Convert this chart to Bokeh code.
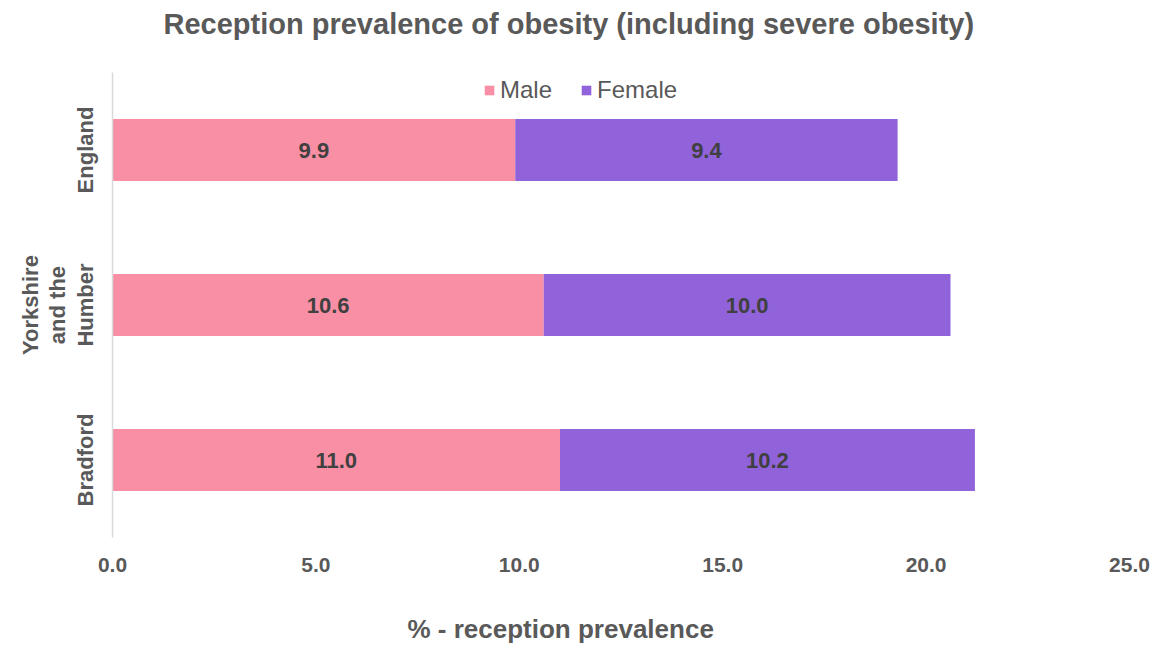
from bokeh.plotting import figure
from bokeh.models import (ColumnDataSource, FixedTicker, NumeralTickFormatter, Range1d,
                          FactorRange, Legend, LegendItem, Title, LinearAxis)
from bokeh.core.properties import value
from bokeh.embed import file_html
from bokeh.resources import INLINE

# Data
areas = ["Bradford", "Yorkshire\nand the\nHumber", "England"]
male = [11.0, 10.6, 9.9]
female = [10.2, 10.0, 9.4]
x_ticks = [0, 5, 10, 15, 20, 25]

MALE_C = "#F98FA4"
FEMALE_C = "#9163DB"
TXT = "#595959"
FONT = "Liberation Sans"

src = ColumnDataSource(dict(
    area=areas, male=male, female=female,
    male_mid=[m / 2 for m in male],
    female_mid=[m + f / 2 for m, f in zip(male, female)],
    male_lbl=["%.1f" % v for v in male],
    female_lbl=["%.1f" % v for v in female],
))

p = figure(width=1156, height=645, y_range=FactorRange(*areas, range_padding=0),
           x_range=Range1d(0, 25), output_backend="svg", toolbar_location=None,
           min_border_left=112, min_border_right=27, min_border_top=72, min_border_bottom=108)

xa = p.xaxis[0]
ya = p.yaxis[0]

renderers = p.hbar_stack(["male", "female"], y="area", height=0.4, source=src,
                         color=[MALE_C, FEMALE_C], line_color=None)

p.text(x="male_mid", y="area", text="male_lbl", source=src, text_align="center",
       text_baseline="middle", text_font=value(FONT), text_font_size="22px",
       text_font_style="bold", text_color="#404040")
p.text(x="female_mid", y="area", text="female_lbl", source=src, text_align="center",
       text_baseline="middle", text_font=value(FONT), text_font_size="22px",
       text_font_style="bold", text_color="#404040")

p.xgrid.visible = False
p.ygrid.visible = False
p.outline_line_color = None

xa.ticker = FixedTicker(ticks=x_ticks)
xa.formatter = NumeralTickFormatter(format="0.0")
xa.axis_line_color = None
xa.major_tick_line_color = None
xa.minor_tick_line_color = None
xa.major_label_text_font = FONT
xa.major_label_text_font_size = "21px"
xa.major_label_text_font_style = "bold"
xa.major_label_text_color = TXT
xa.major_label_standoff = 14

ya.axis_line_color = "#D9D9D9"
ya.axis_line_width = 1.5
ya.major_tick_line_color = None
ya.minor_tick_line_color = None
ya.major_label_orientation = "vertical"
ya.major_label_text_font = FONT
ya.major_label_text_font_size = "22px"
ya.major_label_text_font_style = "bold"
ya.major_label_text_color = TXT
ya.major_label_text_line_height = 1.1
ya.major_label_standoff = 9


def spacer(size):
    # blank axis that only reserves space between the frame and a title
    return LinearAxis(ticker=FixedTicker(ticks=[2.5]), axis_line_color=None,
                      major_tick_line_color="white", minor_tick_line_color=None,
                      major_tick_out=size, major_tick_in=0, minor_tick_out=0,
                      minor_tick_in=0, major_label_standoff=0,
                      major_label_overrides={2.5: ""},
                      major_label_text_font_size="0px")


p.add_layout(spacer(24), "above")
p.add_layout(Title(text="Reception prevalence of obesity (including severe obesity)",
                   align="left", offset=51, standoff=14, vertical_align="top",
                   text_font=FONT, text_font_size="29px", text_font_style="bold",
                   text_color=TXT), "above")

p.add_layout(spacer(39), "below")
p.add_layout(Title(text="% - reception prevalence",
                   align="left", offset=295, standoff=0, vertical_align="top",
                   text_font=FONT, text_font_size="26px", text_font_style="bold",
                   text_color=TXT), "below")

legend = Legend(items=[LegendItem(label="Male", renderers=[renderers[0]]),
                       LegendItem(label="Female", renderers=[renderers[1]])],
                location=(371, 433), orientation="horizontal",
                label_text_font=FONT, label_text_font_size="24px", label_text_color=TXT,
                glyph_width=12, glyph_height=12, spacing=28, label_standoff=5,
                border_line_color=None, background_fill_alpha=0, margin=0, padding=0)
p.add_layout(legend)

open("out.html", "w").write(file_html(p, INLINE))
